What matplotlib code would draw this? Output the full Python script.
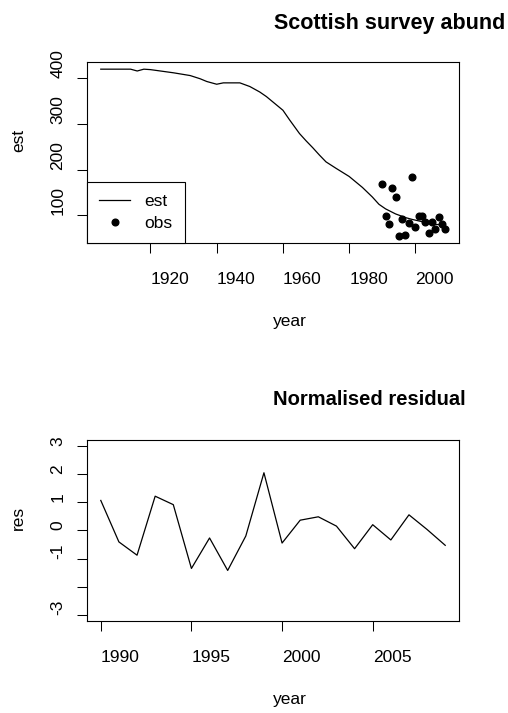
import numpy as np
import matplotlib.pyplot as plt

plt.rcParams["font.family"] = ["Liberation Sans", "DejaVu Sans"]

# modelled abundance (est)
est_years = [1905, 1910, 1914, 1916, 1918, 1920, 1923, 1927, 1932, 1935, 1937,
             1940, 1942, 1947, 1950, 1953, 1955, 1958, 1960, 1962, 1965, 1967,
             1969, 1971, 1973, 1976, 1980, 1984, 1987, 1989, 1991, 1994, 1997,
             1999, 2002, 2004, 2006, 2009]
est_vals = [420, 420, 420, 416, 420, 419, 416, 412, 406, 399, 393,
            387, 390, 390, 382, 370, 360, 342, 330, 309, 279, 263,
            248, 232, 217, 203, 185, 161, 140, 124, 114, 103, 95,
            91, 86, 82, 80, 79]

# survey observations
obs_years = list(range(1990, 2010))
obs_vals = [169, 99, 81, 159, 141, 54, 91, 56, 83, 183,
            74, 98, 98, 86, 62, 86, 70, 96, 81, 70]

# normalised residuals
res_years = list(range(1990, 2010))
res_vals = [1.06, -0.41, -0.88, 1.21, 0.91, -1.35, -0.27, -1.42, -0.20, 2.04,
            -0.45, 0.36, 0.48, 0.15, -0.65, 0.20, -0.34, 0.55, 0.03, -0.53]

W, H = 508, 713
fig = plt.figure(figsize=(W / 100, H / 100), dpi=100)


def px(x, y):
    return x / W, 1 - y / H


def style_axes(ax):
    for s in ax.spines.values():
        s.set_linewidth(0.8)
    ax.tick_params(direction="out", length=7.2, width=0.75, labelsize=12.5)
    ax.tick_params(axis="x", pad=14)
    ax.tick_params(axis="y", pad=8.5)
    plt.setp(ax.get_xticklabels(), ha="left")
    plt.setp(ax.get_yticklabels(), rotation=90, va="bottom", ha="right")


# top panel
ax1 = fig.add_axes([87 / W, 1 - 243 / H, 372 / W, 181 / H])
ax1.plot(est_years, est_vals, color="black", lw=0.9, label="est")
ax1.plot(obs_years, obs_vals, "o", color="black", ms=4.8, label="obs")
ax1.set_xlim(1900.84, 2013.16)
ax1.set_ylim(39.3, 435.7)
ax1.set_xticks([1920, 1940, 1960, 1980, 2000])
ax1.set_yticks([100, 200, 300, 400])
style_axes(ax1)
leg = ax1.legend(loc="lower left", bbox_to_anchor=(0, 0), borderaxespad=0,
                 fancybox=False, edgecolor="black", framealpha=1,
                 fontsize=12.5, handlelength=1.8, handletextpad=0.8,
                 borderpad=0.7, labelspacing=0.38)
leg.get_frame().set_linewidth(0.8)

# bottom panel
ax2 = fig.add_axes([87 / W, 1 - 620.7 / H, 372 / W, 180.7 / H])
ax2.plot(res_years, res_vals, color="black", lw=0.9)
ax2.set_xlim(1989.24, 2009.76)
ax2.set_ylim(-3.2, 3.2)
ax2.set_xticks([1990, 1995, 2000, 2005])
ax2.set_yticks([-3, -2, -1, 0, 1, 2, 3])
ax2.set_yticklabels(["-3", "", "-1", "0", "1", "2", "3"])
style_axes(ax2)

# titles and axis labels
fig.text(*px(274, 29), "Scottish survey abund", fontsize=15.5,
         fontweight="bold", ha="left", va="baseline")
fig.text(*px(273, 405), "Normalised residual", fontsize=14.5,
         fontweight="bold", ha="left", va="baseline")
fig.text(*px(273, 326), "year", fontsize=12.5, ha="left", va="baseline")
fig.text(*px(273, 704), "year", fontsize=12.5, ha="left", va="baseline")
fig.text(*px(26, 152.5), "est", fontsize=12.5, rotation=90, ha="right", va="bottom")
fig.text(*px(26, 530), "res", fontsize=12.5, rotation=90, ha="right", va="bottom")

fig.savefig("out.png", dpi=100)
